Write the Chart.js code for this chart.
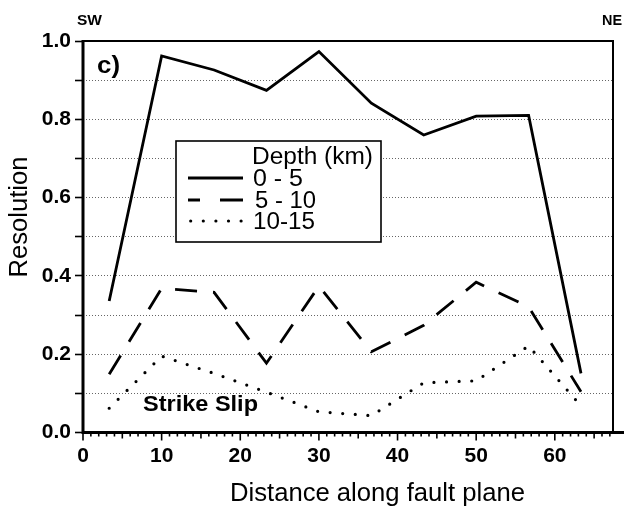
<!DOCTYPE html>
<html>
<head>
<meta charset="utf-8">
<script src="https://cdn.jsdelivr.net/npm/chart.js@4.4.1/dist/chart.umd.min.js"></script>
<style>
  html, body { margin: 0; padding: 0; background: #fff; }
  #wrap { width: 624px; height: 506px; position: relative; }
</style>
</head>
<body>
<div id="wrap"><canvas id="c" width="624" height="506"></canvas></div>
<script>
// ---- data ----
const distances = [3.33, 10, 16.67, 23.33, 30, 36.67, 43.33, 50, 56.67, 63.33];
const depth0to5   = [0.336, 0.962, 0.926, 0.874, 0.973, 0.841, 0.760, 0.808, 0.810, 0.151];
const depth5to10  = [0.149, 0.368, 0.358, 0.177, 0.374, 0.206, 0.274, 0.384, 0.321, 0.104];
const depth10to15 = [0.062, 0.195, 0.151, 0.103, 0.053, 0.043, 0.127, 0.132, 0.221, 0.068];
const seriesLabels = ['0 - 5', '5 - 10', '10-15'];
const legendTitle = 'Depth (km)';
const xTitle = 'Distance along fault plane';
const yTitle = 'Resolution';
const xMajorTicks = [0, 10, 20, 30, 40, 50, 60];
const yLabelTicks = [0.0, 0.2, 0.4, 0.6, 0.8, 1.0];

const FONT = '"Liberation Sans", Arial, Helvetica, sans-serif';

function pts(ys) { return distances.map((x, i) => ({ x: x, y: ys[i] })); }

function fitText(ctx, text, x, y, font, targetW, align) {
  ctx.save();
  ctx.font = font;
  const w = ctx.measureText(text).width;
  const s = targetW ? targetW / w : 1;
  let x0 = x;
  if (align === 'right') x0 = x - w * s;
  if (align === 'center') x0 = x - w * s / 2;
  ctx.translate(x0, y);
  ctx.scale(s, 1);
  ctx.textAlign = 'left';
  ctx.textBaseline = 'alphabetic';
  ctx.fillStyle = '#000';
  ctx.fillText(text, 0, 0);
  ctx.restore();
}

const decor = {
  id: 'decor',
  afterDraw(chart) {
    const ctx = chart.ctx;
    const a = chart.chartArea;
    const xs = chart.scales.x;
    ctx.save();
    // frame
    ctx.strokeStyle = '#000';
    ctx.lineWidth = 2;
    ctx.beginPath();
    ctx.moveTo(a.left, a.top); ctx.lineTo(a.right, a.top); ctx.lineTo(a.right, a.bottom);
    ctx.stroke();
    ctx.lineWidth = 3;
    ctx.beginPath();
    ctx.moveTo(a.left, a.top - 1); ctx.lineTo(a.left, a.bottom);
    ctx.lineTo(chart.width, a.bottom);
    ctx.stroke();
    // x tick marks (minor each 1, medium each 5, major each 10)
    ctx.lineWidth = 1.6;
    for (let v = 0; v <= Math.floor(xs.max); v++) {
      const px = xs.getPixelForValue(v);
      const len = (v % 10 === 0) ? 8 : (v % 5 === 0 ? 6 : 4);
      ctx.beginPath();
      ctx.moveTo(px, a.bottom);
      ctx.lineTo(px, a.bottom + len);
      ctx.stroke();
    }
    ctx.restore();

    // texts
    fitText(ctx, 'SW', 77, 25, 'bold 15px ' + FONT, 25, 'left');
    fitText(ctx, 'NE', 622, 25, 'bold 15px ' + FONT, 20, 'right');
    fitText(ctx, 'c)', 97, 73, 'bold 23px ' + FONT, 23, 'left');
    fitText(ctx, 'Strike Slip', 143, 411, 'bold 22px ' + FONT, 115, 'left');
    fitText(ctx, xTitle, 230, 501, '26px ' + FONT, 295, 'left');
    ctx.save();
    ctx.translate(27, 217);
    ctx.rotate(-Math.PI / 2);
    fitText(ctx, yTitle, 0, 0, '25px ' + FONT, 121, 'center');
    ctx.restore();

    // legend
    ctx.save();
    const L = 176, T = 141, R = 381, B = 242;
    ctx.fillStyle = '#fff';
    ctx.fillRect(L, T, R - L, B - T);
    ctx.strokeStyle = '#000';
    ctx.lineWidth = 1.6;
    ctx.strokeRect(L, T, R - L, B - T);
    const rows = [178, 200, 221];
    chart.data.datasets.forEach((ds, i) => {
      ctx.save();
      ctx.strokeStyle = '#000';
      ctx.lineWidth = ds.borderWidth;
      ctx.lineCap = ds.borderCapStyle || 'butt';
      if (i === 1) { ctx.setLineDash([12, 20, 23, 100]); }
      else if (i === 2) { ctx.setLineDash([0, 12.6]); ctx.lineDashOffset = 0; }
      ctx.beginPath();
      ctx.moveTo(i === 2 ? 190.7 : 188, rows[i]);
      ctx.lineTo(243, rows[i]);
      ctx.stroke();
      ctx.restore();
    });
    ctx.restore();
    fitText(ctx, legendTitle, 252, 164, '23px ' + FONT, 121, 'left');
    fitText(ctx, seriesLabels[0], 253, 186, '23px ' + FONT, 50, 'left');
    fitText(ctx, seriesLabels[1], 255, 208, '23px ' + FONT, 61, 'left');
    fitText(ctx, seriesLabels[2], 253, 229, '23px ' + FONT, 62, 'left');
  }
};

new Chart(document.getElementById('c'), {
  type: 'line',
  data: {
    datasets: [
      { label: seriesLabels[0], data: pts(depth0to5), borderColor: '#000', borderWidth: 2.8,
        pointRadius: 0, tension: 0, fill: false },
      { label: seriesLabels[1], data: pts(depth5to10), borderColor: '#000', borderWidth: 2.8,
        borderDash: [22, 16], pointRadius: 0, tension: 0, fill: false },
      { label: seriesLabels[2], data: pts(depth10to15), borderColor: '#000', borderWidth: 3.2,
        borderDash: [0, 12.6], borderCapStyle: 'round', pointRadius: 0, tension: 0, fill: false }
    ]
  },
  options: {
    responsive: false,
    animation: false,
    devicePixelRatio: 1,
    layout: { padding: { top: 41, right: 1.5, bottom: 0, left: 0 } },
    plugins: { legend: { display: false }, tooltip: { enabled: false } },
    scales: {
      x: {
        type: 'linear', min: 0, max: 67.4,
        afterFit(s) { s.height = 73.5; },
        border: { display: false },
        grid: { display: false, drawTicks: false },
        ticks: {
          stepSize: 1, autoSkip: false, maxRotation: 0, padding: 11,
          color: '#000', font: { family: FONT, size: 21, weight: 'bold' },
          callback: (v) => xMajorTicks.includes(v) ? String(v) : ''
        }
      },
      y: {
        type: 'linear', min: 0, max: 1,
        afterFit(s) { s.width = 83; },
        border: { display: false, dash: [1, 2] },
        grid: {
          color: (c) => (c.tick && (c.tick.value <= 0.001 || c.tick.value >= 0.999)) ? 'rgba(0,0,0,0)' : 'rgba(0,0,0,0.6)',
          lineWidth: 1, tickLength: 8, tickColor: '#000', tickWidth: 1.6
        },
        ticks: {
          stepSize: 0.1, padding: 4, color: '#000',
          font: { family: FONT, size: 21, weight: 'bold' },
          callback: (v) => {
            const r = Math.round(v * 10) / 10;
            return yLabelTicks.some(t => Math.abs(t - r) < 1e-6) ? r.toFixed(1) : '';
          }
        }
      }
    }
  },
  plugins: [decor]
});
</script>
</body>
</html>
